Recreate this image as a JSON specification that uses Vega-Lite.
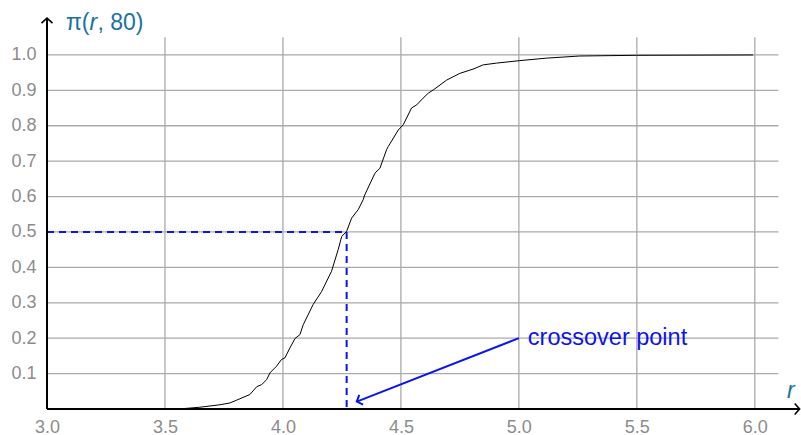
{
  "$schema": "https://vega.github.io/schema/vega-lite/v6.json",
  "width": 755,
  "height": 393,
  "autosize": "none",
  "padding": {"left": 47, "top": 16, "right": 0, "bottom": 26},
  "background": "white",
  "config": {"view": {"stroke": null}, "font": "Liberation Sans"},
  "datasets": {
    "curve": [
      {"x": 3.0, "y": 0}, {"x": 3.5, "y": 0}, {"x": 3.576, "y": 0.001}, {"x": 3.648, "y": 0.005},
      {"x": 3.733, "y": 0.012}, {"x": 3.775, "y": 0.017}, {"x": 3.804, "y": 0.025}, {"x": 3.86, "y": 0.041},
      {"x": 3.889, "y": 0.063}, {"x": 3.91, "y": 0.069}, {"x": 3.931, "y": 0.083}, {"x": 3.945, "y": 0.102},
      {"x": 3.973, "y": 0.121}, {"x": 3.994, "y": 0.14}, {"x": 4.008, "y": 0.144}, {"x": 4.03, "y": 0.173},
      {"x": 4.051, "y": 0.199}, {"x": 4.072, "y": 0.21}, {"x": 4.086, "y": 0.238}, {"x": 4.128, "y": 0.295},
      {"x": 4.164, "y": 0.332}, {"x": 4.206, "y": 0.389}, {"x": 4.234, "y": 0.45}, {"x": 4.249, "y": 0.487},
      {"x": 4.27, "y": 0.502}, {"x": 4.291, "y": 0.539}, {"x": 4.319, "y": 0.563}, {"x": 4.34, "y": 0.591},
      {"x": 4.347, "y": 0.605}, {"x": 4.39, "y": 0.666}, {"x": 4.411, "y": 0.68}, {"x": 4.439, "y": 0.732},
      {"x": 4.446, "y": 0.741}, {"x": 4.489, "y": 0.788}, {"x": 4.51, "y": 0.803}, {"x": 4.545, "y": 0.85},
      {"x": 4.567, "y": 0.859}, {"x": 4.594, "y": 0.878}, {"x": 4.616, "y": 0.892}, {"x": 4.637, "y": 0.901},
      {"x": 4.694, "y": 0.929}, {"x": 4.75, "y": 0.948}, {"x": 4.806, "y": 0.96}, {"x": 4.849, "y": 0.972},
      {"x": 4.906, "y": 0.977}, {"x": 5.004, "y": 0.984}, {"x": 5.117, "y": 0.991}, {"x": 5.258, "y": 0.997},
      {"x": 5.499, "y": 0.999}, {"x": 5.993, "y": 1.0}
    ],
    "vgrid": [
      {"x": 3.5, "y": 0, "y2": 1.05}, {"x": 4.0, "y": 0, "y2": 1.05}, {"x": 4.5, "y": 0, "y2": 1.05},
      {"x": 5.0, "y": 0, "y2": 1.05}, {"x": 5.5, "y": 0, "y2": 1.05}, {"x": 6.0, "y": 0, "y2": 1.05}
    ],
    "hgrid": [
      {"y": 0.1, "x": 3, "x2": 6.1}, {"y": 0.2, "x": 3, "x2": 6.1}, {"y": 0.3, "x": 3, "x2": 6.1},
      {"y": 0.4, "x": 3, "x2": 6.1}, {"y": 0.5, "x": 3, "x2": 6.1}, {"y": 0.6, "x": 3, "x2": 6.1},
      {"y": 0.7, "x": 3, "x2": 6.1}, {"y": 0.8, "x": 3, "x2": 6.1}, {"y": 0.9, "x": 3, "x2": 6.1},
      {"y": 1.0, "x": 3, "x2": 6.1}
    ],
    "dashed": [
      {"x": 3.0, "y": 0.5, "x2": 4.27, "y2": 0.5},
      {"x": 4.27, "y": 0.5, "x2": 4.27, "y2": 0.0}
    ],
    "axes": [
      {"x": 3.0, "y": 0, "x2": 6.19, "y2": 0},
      {"x": 3.0, "y": 0, "x2": 3.0, "y2": 1.104}
    ],
    "xtip": [{"x": 6.19, "y": 0}],
    "ytip": [{"x": 3.0, "y": 1.104}],
    "annot": [{"x": 5.0, "y": 0.2, "x2": 4.313, "y2": 0.021}],
    "annotTip": [{"x": 4.313, "y": 0.021}]
  },
  "encoding": {
    "x": {
      "field": "x", "type": "quantitative",
      "scale": {"domain": [3, 6.2], "nice": false, "zero": false},
      "axis": {
        "title": null, "domain": false, "grid": false, "ticks": false,
        "values": [3.0, 3.5, 4.0, 4.5, 5.0, 5.5, 6.0], "format": ".1f", "labelFlush": false,
        "labelFontSize": 18, "labelColor": "#8c8c8c", "labelPadding": 9, "labelFont": "Liberation Sans"
      }
    },
    "y": {
      "field": "y", "type": "quantitative",
      "scale": {"domain": [0, 1.11], "nice": false, "zero": false},
      "axis": {
        "title": null, "domain": false, "grid": false, "ticks": false,
        "values": [0.1, 0.2, 0.3, 0.4, 0.5, 0.6, 0.7, 0.8, 0.9, 1.0], "format": ".1f", "labelFlush": false,
        "labelFontSize": 18, "labelColor": "#8c8c8c", "labelPadding": 11, "labelFont": "Liberation Sans"
      }
    }
  },
  "layer": [
    {
      "data": {"name": "vgrid"},
      "mark": {"type": "rule", "color": "#aaaaaa", "strokeWidth": 1.3},
      "encoding": {"y2": {"field": "y2"}}
    },
    {
      "data": {"name": "hgrid"},
      "mark": {"type": "rule", "color": "#aaaaaa", "strokeWidth": 1.3},
      "encoding": {"x2": {"field": "x2"}}
    },
    {
      "data": {"name": "dashed"},
      "mark": {"type": "rule", "color": "#0a14f0", "strokeWidth": 2, "strokeDash": [7, 5]},
      "encoding": {"x2": {"field": "x2"}, "y2": {"field": "y2"}}
    },
    {
      "data": {"name": "curve"},
      "mark": {"type": "line", "color": "black", "strokeWidth": 1, "interpolate": "linear"},
      "encoding": {"order": {"field": "x", "type": "quantitative"}}
    },
    {
      "data": {"name": "axes"},
      "mark": {"type": "rule", "color": "black", "strokeWidth": 2},
      "encoding": {"x2": {"field": "x2"}, "y2": {"field": "y2"}}
    },
    {
      "data": {"name": "xtip"},
      "mark": {"type": "point", "shape": "M-0.9,-1L0,0L-0.9,1", "filled": false, "stroke": "black", "strokeWidth": 1.6, "size": 121, "angle": 0, "opacity": 1}
    },
    {
      "data": {"name": "ytip"},
      "mark": {"type": "point", "shape": "M-0.9,-1L0,0L-0.9,1", "filled": false, "stroke": "black", "strokeWidth": 1.6, "size": 121, "angle": 270, "opacity": 1}
    },
    {
      "data": {"name": "annot"},
      "mark": {"type": "rule", "color": "#0a14f0", "strokeWidth": 2},
      "encoding": {"x2": {"field": "x2"}, "y2": {"field": "y2"}}
    },
    {
      "data": {"name": "annotTip"},
      "mark": {"type": "point", "shape": "M-0.9,-1L0,0L-0.9,1", "filled": false, "stroke": "#0a14f0", "strokeWidth": 2, "size": 110, "angle": 158.4, "opacity": 1}
    },
    {
      "data": {"values": [{"x": 5.038, "y": 0.182, "t": "crossover point"}]},
      "mark": {"type": "text", "align": "left", "baseline": "alphabetic", "fontSize": 23.5, "color": "#0a14f0", "font": "Liberation Sans"},
      "encoding": {"text": {"field": "t"}}
    },
    {
      "data": {"values": [{"x": 3.0805, "y": 1.07, "t": "π("}, {"x": 3.214, "y": 1.07, "t": ", 80)"}]},
      "mark": {"type": "text", "align": "left", "baseline": "alphabetic", "fontSize": 23, "color": "#1b72a0", "font": "Liberation Sans"},
      "encoding": {"text": {"field": "t"}}
    },
    {
      "data": {"values": [{"x": 3.18, "y": 1.07, "t": "r"}, {"x": 6.136, "y": 0.032, "t": "r"}]},
      "mark": {"type": "text", "align": "left", "baseline": "alphabetic", "fontSize": 23, "fontStyle": "italic", "color": "#1b72a0", "font": "Liberation Sans"},
      "encoding": {"text": {"field": "t"}}
    }
  ]
}
